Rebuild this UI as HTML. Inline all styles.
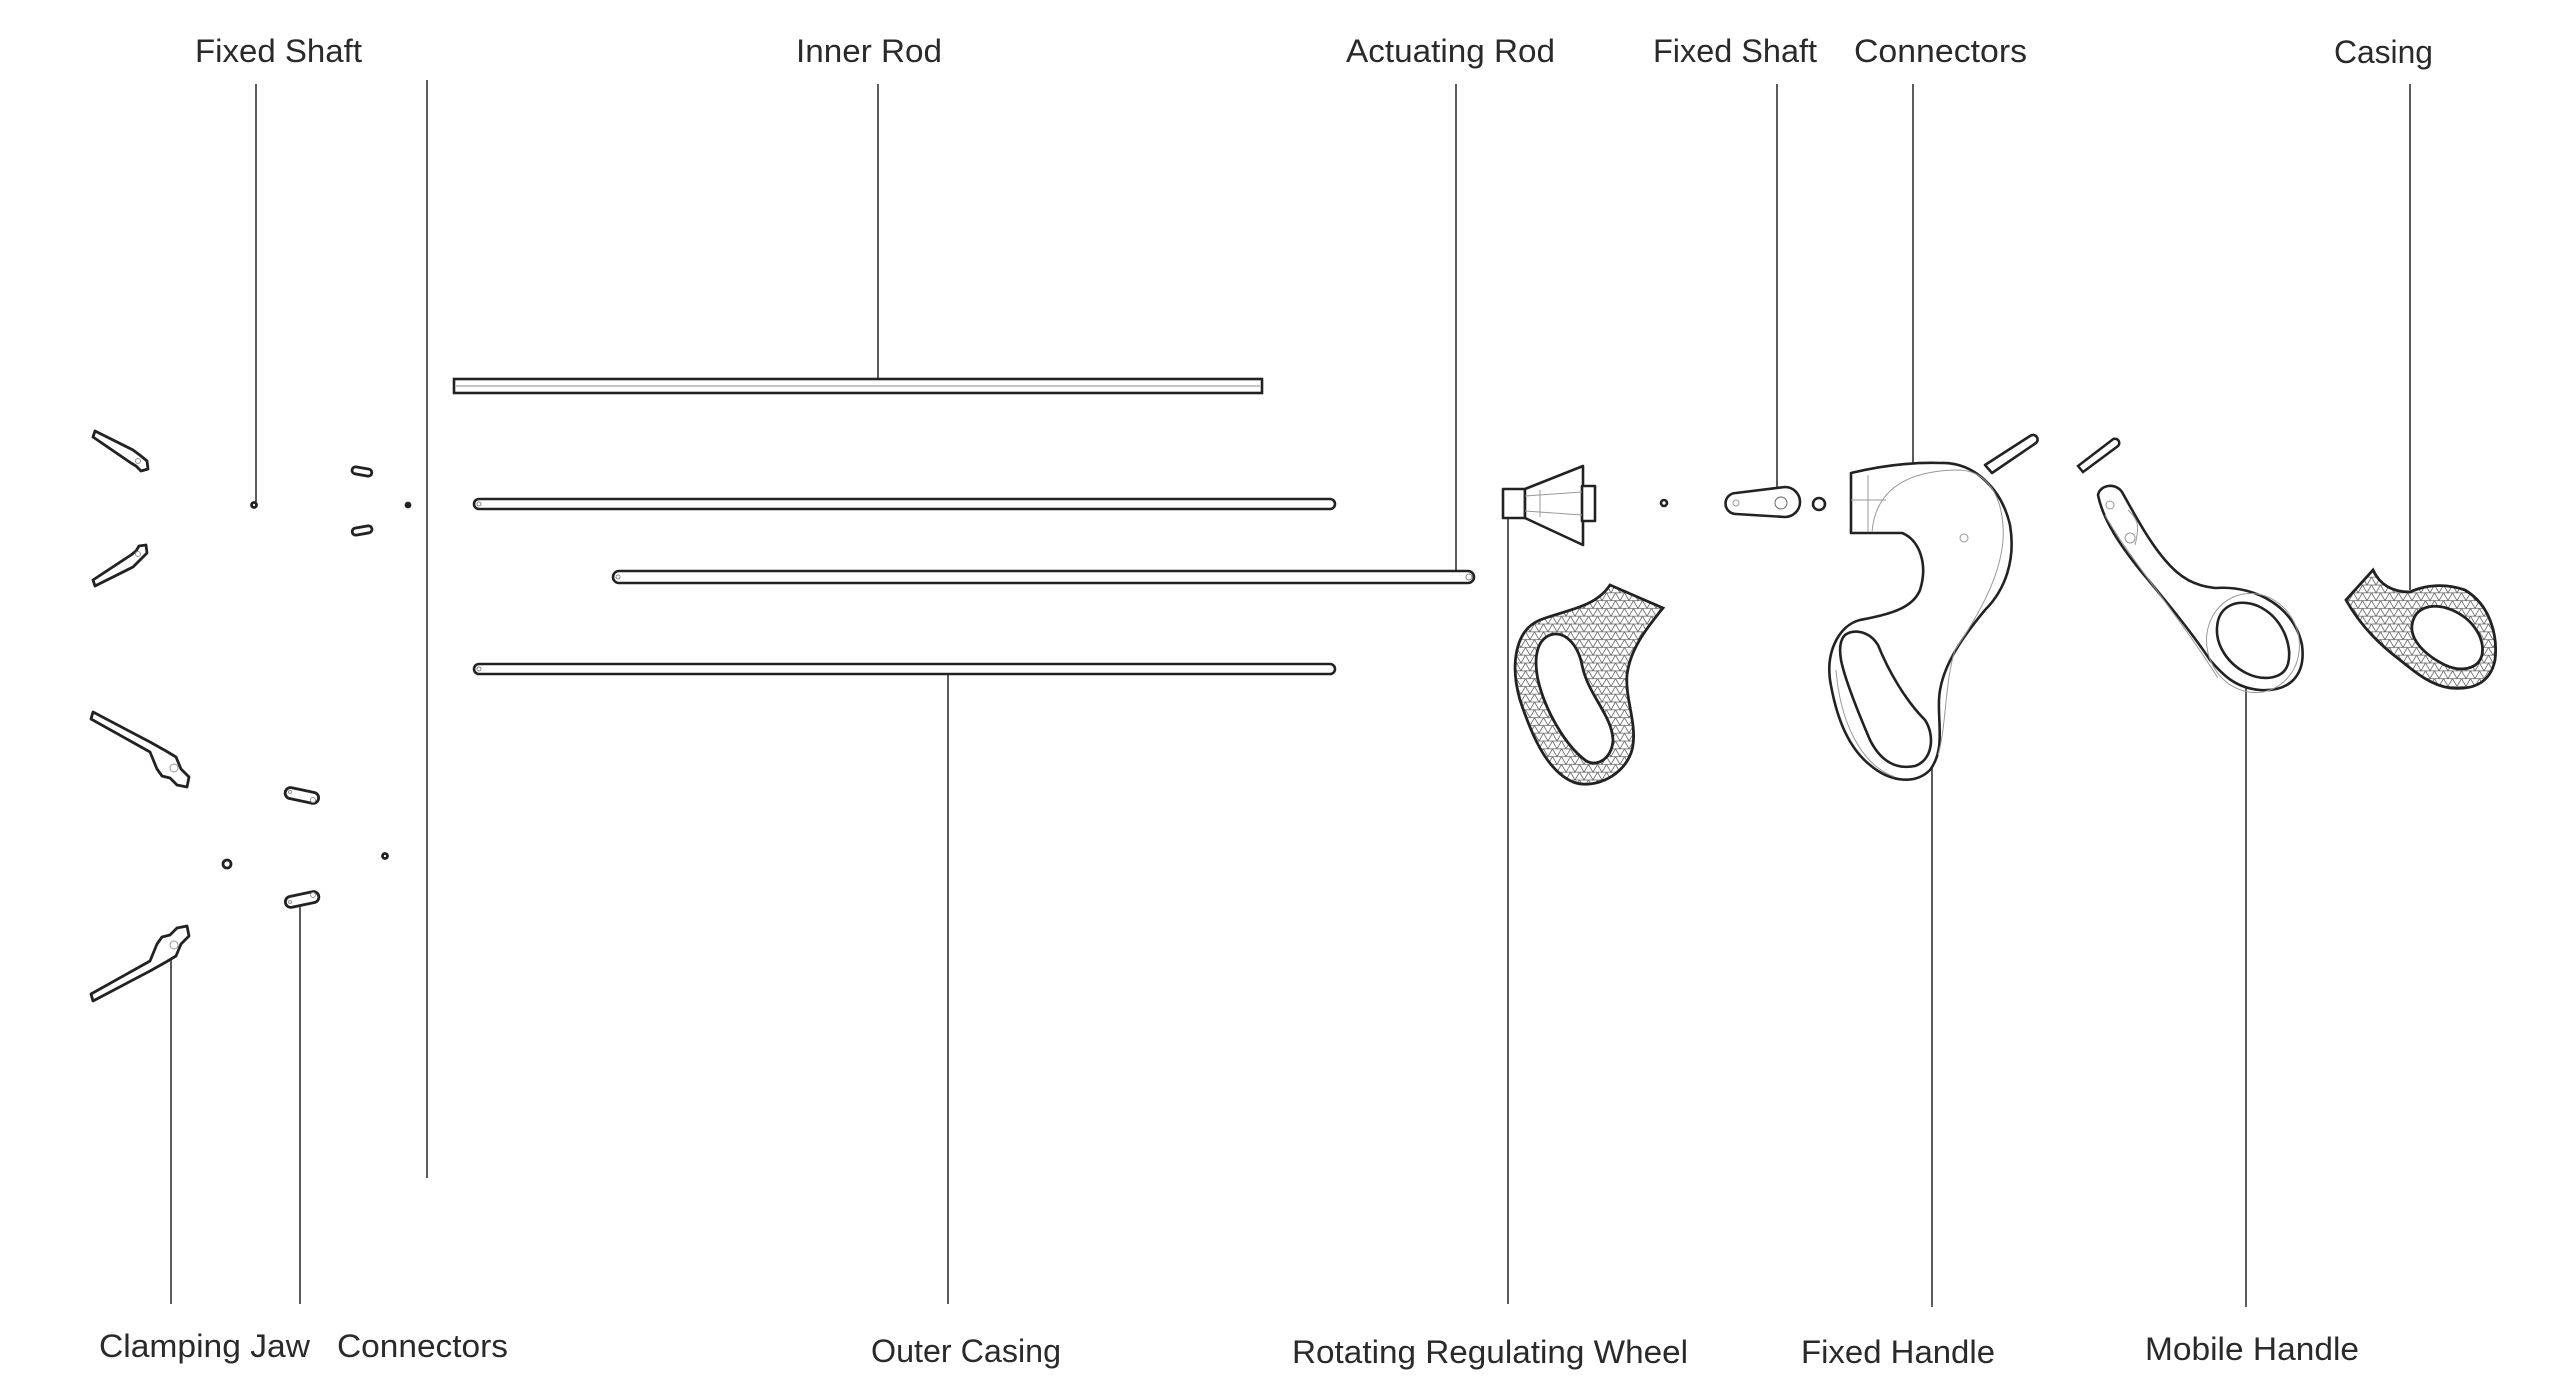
<!DOCTYPE html>
<html><head><meta charset="utf-8"><style>
html,body{margin:0;padding:0;background:#fff;width:2560px;height:1400px;overflow:hidden}
svg{display:block}
text{font-family:"Liberation Sans",sans-serif;font-size:32px;fill:#2a2a2a}
</style></head><body>
<svg width="2560" height="1400" viewBox="0 0 2560 1400" xmlns="http://www.w3.org/2000/svg">
<defs>
<pattern id="tri" width="9" height="7.8" patternUnits="userSpaceOnUse">
<path d="M0,0 H9 M0,7.8 H9 M0,7.8 L4.5,0 L9,7.8 M-4.5,7.8 L0,0 M9,0 L13.5,7.8" stroke="#666" stroke-width="0.8" fill="none"/>
</pattern>
</defs>
<g stroke="#333" stroke-width="1.6" fill="none">
<line x1="256" y1="84" x2="256" y2="505"/>
<line x1="427" y1="80" x2="427" y2="1178"/>
<line x1="878" y1="84" x2="878" y2="378"/>
<line x1="1456" y1="84" x2="1456" y2="572"/>
<line x1="1777" y1="84" x2="1777" y2="500"/>
<line x1="1913" y1="84" x2="1913" y2="500"/>
<line x1="2410" y1="84" x2="2410" y2="590"/>
<line x1="171" y1="945" x2="171" y2="1304"/>
<line x1="300" y1="905" x2="300" y2="1304"/>
<line x1="948" y1="674" x2="948" y2="1304"/>
<line x1="1508" y1="518" x2="1508" y2="1304"/>
<line x1="1932" y1="767" x2="1932" y2="1307"/>
<line x1="2246" y1="687" x2="2246" y2="1307"/>
</g>
<g stroke="#222" stroke-width="2.6" fill="#fff">
<rect x="454" y="379" width="808" height="14"/>
<rect x="474" y="499" width="861" height="10" rx="5"/>
<rect x="613" y="571" width="861" height="12" rx="6"/>
<rect x="474" y="664" width="861" height="10" rx="5"/>
</g>
<g stroke="#888" stroke-width="1" fill="none">
<line x1="456" y1="386" x2="1260" y2="386"/>
<circle cx="479" cy="504" r="2"/><circle cx="618" cy="577" r="2"/><circle cx="1469" cy="577" r="3"/><circle cx="479" cy="669" r="2"/>
</g>
<g stroke="#222" stroke-width="2.8" fill="#fff" stroke-linejoin="round">
<path d="M95,431 L133,450 L141,456 L147,461 L148,469 L141,471 L136,466 L131,463 L93,437 Z"/>
<path d="M95,586 L133,567 L141,559 L147,553 L146,545 L139,546 L136,551 L131,555 L93,580 Z"/>
<path d="M93,712 L150,742 L166,751 L176,757 L181,769 L189,777 L187,787 L177,785 L170,778 L162,776 L157,769 L150,752 L91,719 Z"/>
<path d="M93,1001 L150,971 L166,962 L176,956 L181,944 L189,936 L187,926 L177,928 L170,935 L162,937 L157,944 L150,961 L91,994 Z"/>
<rect x="352" y="468" width="20" height="7" rx="3.5" transform="rotate(10 362 471)"/>
<rect x="352" y="527" width="20" height="7" rx="3.5" transform="rotate(-10 362 530)"/>
<rect x="285" y="790" width="34" height="11" rx="5.5" transform="rotate(12 302 795)"/>
<rect x="285" y="894" width="34" height="11" rx="5.5" transform="rotate(-12 302 899)"/>
<circle cx="227" cy="864" r="4"/>
<circle cx="385" cy="856" r="2.5"/>
<circle cx="254" cy="505" r="2.5"/>
<circle cx="408" cy="505" r="2" fill="#222"/>
</g>
<g stroke="#999" stroke-width="1" fill="none">
<circle cx="138" cy="461" r="2.5"/><circle cx="138" cy="554" r="2.5"/><circle cx="174" cy="768" r="4"/><circle cx="174" cy="945" r="4"/>
<circle cx="290" cy="792" r="1.5"/><circle cx="313" cy="800" r="2.5"/><circle cx="290" cy="902" r="1.5"/><circle cx="313" cy="895" r="2.5"/>
</g>
<g stroke="#222" stroke-width="2.6" fill="#fff" stroke-linejoin="round">
<rect x="1503" y="489" width="22" height="29"/>
<path d="M1525,489 L1583,466 L1583,545 L1525,518 Z"/>
<rect x="1582" y="486" width="13" height="35"/>
<circle cx="1664" cy="503" r="3"/>
<path d="M1736,493 L1785,487 A12,12 0 0 1 1785,517 L1736,514 A10.5,10.5 0 0 1 1736,493 Z"/>
<circle cx="1819" cy="504" r="6"/>
</g>
<g stroke="#999" stroke-width="1" fill="none">
<line x1="1525" y1="496" x2="1582" y2="492"/><line x1="1525" y1="511" x2="1582" y2="515"/><line x1="1540" y1="490" x2="1540" y2="517"/>
<circle cx="1736" cy="503" r="3"/><circle cx="1781" cy="503" r="6" stroke="#666"/>
</g>
<path fill-rule="evenodd" fill="url(#tri)" stroke="#222" stroke-width="2.8" d="M1610,585 L1663,608 C1645,630 1630,650 1627,675 C1625,700 1638,725 1632,750 C1625,775 1595,790 1573,782 C1545,770 1530,730 1520,700 C1510,665 1515,630 1540,620 C1565,610 1595,608 1610,585 Z M1550,635 C1565,630 1578,645 1582,665 C1588,695 1612,715 1613,740 C1612,760 1595,768 1585,760 C1565,745 1545,710 1538,680 C1533,655 1538,640 1550,635 Z"/>
<g stroke="#222" stroke-width="2.6" fill="#fff" stroke-linejoin="round">
<path d="M1985,465 L2030,436 A4,4 0 0 1 2036,443 L1992,473 Z"/>
<path fill-rule="evenodd" d="M1851,473 C1880,466 1910,462 1941,463 C1975,462 2002,490 2010,525 C2016,560 2005,590 1985,610 C1960,640 1940,670 1939,700 C1938,725 1945,750 1930,770 C1915,785 1890,782 1870,765 C1845,745 1835,710 1830,680 C1826,650 1840,625 1860,620 C1885,615 1912,610 1920,590 C1928,565 1920,540 1902,533 L1851,533 Z M1845,635 C1855,628 1870,632 1878,645 C1888,670 1905,700 1925,720 C1935,735 1933,760 1915,766 C1895,770 1880,760 1870,740 C1858,712 1845,680 1841,660 C1839,648 1840,640 1845,635 Z"/>
</g>
<g stroke="#999" stroke-width="1" fill="none">
<path d="M1851,500 L1886,500 M1868,475 L1868,532 M1872,532 C1875,495 1900,470 1960,470 C1995,472 2005,510 2003,540 C2000,580 1975,620 1955,650 C1945,680 1946,730 1938,755"/>
<path d="M1836,670 C1840,720 1860,765 1895,777"/>
<circle cx="1964" cy="538" r="4"/>
</g>
<path d="M2078,466 L2112,440 A3.5,3.5 0 0 1 2118,446 L2083,472 Z" stroke="#222" stroke-width="2.5" fill="#fff"/>
<g stroke="#222" stroke-width="2.6" fill="#fff" stroke-linejoin="round">
<path fill-rule="evenodd" d="M2098,495 C2100,485 2115,482 2122,492 C2135,515 2148,540 2165,560 C2180,578 2195,586 2215,588 C2260,585 2295,610 2302,645 C2306,675 2290,692 2260,690 C2235,688 2222,674 2210,660 C2190,630 2165,600 2140,570 C2120,545 2103,520 2098,495 Z M2217,628 C2218,605 2238,598 2258,606 C2282,617 2293,645 2288,664 C2283,680 2262,681 2246,673 C2227,663 2216,645 2217,628 Z"/>
</g>
<g stroke="#999" stroke-width="1" fill="none">
<circle cx="2110" cy="505" r="4"/><circle cx="2130" cy="538" r="5"/>
<path d="M2105,515 C2130,560 2175,610 2218,678 M2128,510 C2138,520 2140,525 2135,545"/>
<ellipse cx="2253" cy="643" rx="46" ry="50" transform="rotate(-20 2253 643)"/>
</g>
<path fill-rule="evenodd" fill="url(#tri)" stroke="#222" stroke-width="2.8" d="M2373,570 C2380,585 2392,592 2410,592 C2425,585 2445,583 2465,590 C2490,605 2498,635 2495,660 C2490,685 2470,690 2450,688 C2430,685 2415,672 2400,660 C2380,645 2360,625 2346,600 Z M2412,625 C2415,605 2435,603 2452,610 C2475,620 2485,640 2482,655 C2478,670 2460,672 2445,665 C2425,655 2410,640 2412,625 Z"/>
<g>
<text x="195" y="62" textLength="167" lengthAdjust="spacingAndGlyphs">Fixed Shaft</text>
<text x="796" y="62" textLength="146" lengthAdjust="spacingAndGlyphs">Inner Rod</text>
<text x="1346" y="62" textLength="209" lengthAdjust="spacingAndGlyphs">Actuating Rod</text>
<text x="1653" y="62" textLength="164" lengthAdjust="spacingAndGlyphs">Fixed Shaft</text>
<text x="1854" y="62" textLength="173" lengthAdjust="spacingAndGlyphs">Connectors</text>
<text x="2334" y="63" textLength="99" lengthAdjust="spacingAndGlyphs">Casing</text>
<text x="99" y="1357" textLength="211" lengthAdjust="spacingAndGlyphs">Clamping Jaw</text>
<text x="337" y="1357" textLength="171" lengthAdjust="spacingAndGlyphs">Connectors</text>
<text x="871" y="1362" textLength="190" lengthAdjust="spacingAndGlyphs">Outer Casing</text>
<text x="1292" y="1363" textLength="396" lengthAdjust="spacingAndGlyphs">Rotating Regulating Wheel</text>
<text x="1801" y="1363" textLength="194" lengthAdjust="spacingAndGlyphs">Fixed Handle</text>
<text x="2145" y="1360" textLength="214" lengthAdjust="spacingAndGlyphs">Mobile Handle</text>
</g>
</svg>
</body></html>
